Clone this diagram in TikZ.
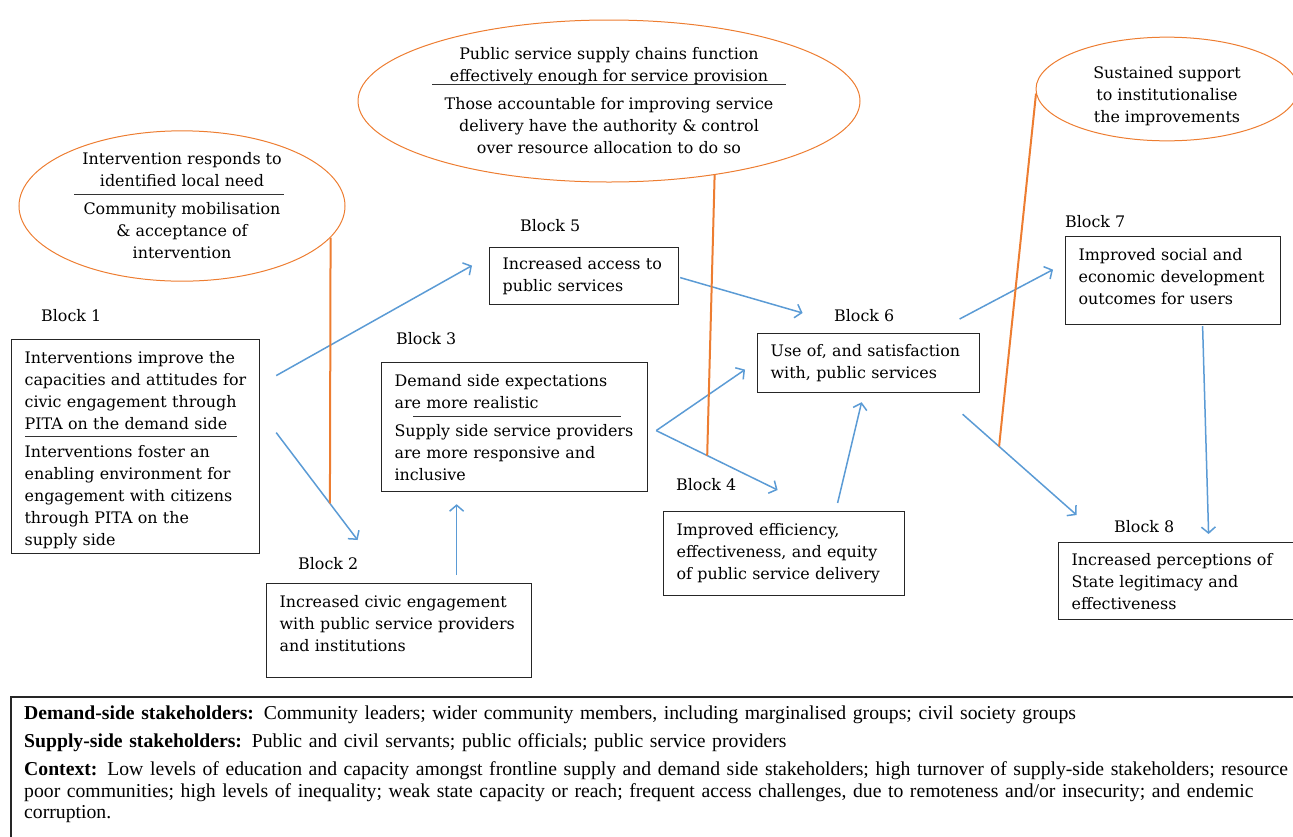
\documentclass[tikz,border=0pt]{standalone}
\usepackage{fontspec}
\setmainfont{DejaVu Serif}
\newfontfamily\ctxfont{Liberation Serif}
\usepackage{tikz}
\usetikzlibrary{calc,positioning,shapes.geometric,arrows.meta}
\definecolor{linkblue}{HTML}{5B9BD5}
\definecolor{assumorange}{HTML}{ED7D31}
\newcommand{\padtop}[1]{\rule{0pt}{#1}}
\newcommand{\padbot}[1]{\rule[-#1]{0pt}{0pt}}

\begin{document}
\begin{tikzpicture}[
  x=1pt, y=-1pt,
  font=\fontsize{15.9}{22}\selectfont,
  boxstyle/.style={draw=black!85, line width=1.2pt, anchor=north west, align=left, inner xsep=13pt, inner ysep=0pt},
  namestyle/.style={inner sep=0pt},
  ovalstyle/.style={ellipse, draw=assumorange, line width=1pt, inner sep=0pt, align=center},
  rulestyle/.style={draw=black!80, line width=0.9pt},
  pathstyle/.style={draw=linkblue, line width=1.5pt, -{Straight Barb[length=6pt,width=14pt]}},
  linkstyle/.style={draw=assumorange, line width=2pt}
]
  \useasboundingbox (0,0) rectangle (1293,836);

  \node[boxstyle, text width=222pt, minimum height=214pt] (B1) at (11,339)
    {\padtop{20pt}Interventions improve the\\ capacities and attitudes for\\ civic engagement through\\ PITA on the demand side\\[6pt]
     Interventions foster an\\ enabling environment for\\ engagement with citizens\\ through PITA on the\\ supply side};
  \node[boxstyle, text width=239pt, minimum height=94pt] (B2) at (266,583)
    {Increased civic engagement\\ with public service providers\\ and institutions\padbot{14pt}};
  \node[boxstyle, text width=240pt, minimum height=129pt] (B3) at (381,362)
    {Demand side expectations\\ are more realistic\\[6pt] Supply side service providers\\ are more responsive and\\ inclusive};
  \node[boxstyle, text width=215pt, minimum height=84pt] (B4) at (663,511)
    {Improved efficiency,\\ effectiveness, and equity\\ of public service delivery};
  \node[boxstyle, text width=163pt, minimum height=57pt] (B5) at (489,247)
    {Increased access to\\ public services};
  \node[boxstyle, text width=196pt, minimum height=59pt] (B6) at (757,333)
    {Use of, and satisfaction\\ with, public services};
  \node[boxstyle, text width=189pt, minimum height=88pt] (B7) at (1065,236)
    {Improved social and\\ economic development\\ outcomes for users\padbot{8pt}};
  \node[boxstyle, text width=214pt, minimum height=77pt] (B8) at (1058,542)
    {Increased perceptions of\\ State legitimacy and\\ effectiveness};

  \node[namestyle, above right=17pt and 30pt of B1.north west] (N1) {Block 1};
  \node[namestyle, above right=13pt and 32pt of B2.north west] (N2) {Block 2};
  \node[namestyle, above right=17pt and 15pt of B3.north west] (N3) {Block 3};
  \node[namestyle, above right=20pt and 13pt of B4.north west] (N4) {Block 4};
  \node[namestyle, above right=15pt and 31pt of B5.north west] (N5) {Block 5};
  \node[namestyle, above right=11pt and 77pt of B6.north west] (N6) {Block 6};
  \node[namestyle, above right=8pt and 0pt of B7.north west] (N7) {Block 7};
  \node[namestyle, above right=9pt and 56pt of B8.north west] (N8) {Block 8};

  \node[ovalstyle, minimum width=326pt, minimum height=150pt] (E1) at (182,206)
    {Intervention responds to\\ identified local need\\[6pt] Community mobilisation\\ \& acceptance of\\ intervention};
  \node[ovalstyle, minimum width=502pt, minimum height=162pt] (E2) at (609,101)
    {Public service supply chains function\\ effectively enough for service provision\\[6pt]
     Those accountable for improving service\\ delivery have the authority \& control\\ over resource allocation to do so};
  \node[ovalstyle, minimum width=262pt, minimum height=100pt] (E3) at (1167,89)
    {\padtop{26pt}Sustained support\\ to institutionalise\\ the improvements};

  \draw[rulestyle] ($(B1.north west)+(14,97)$) -- ($(B1.north west)+(226,97)$);
  \draw[rulestyle] ($(B3.north west)+(32,54)$) -- ($(B3.north west)+(240,54)$);
  \draw[rulestyle] ($(E1.center)+(-108,-12)$) -- ($(E1.center)+(102,-12)$);
  \draw[rulestyle] ($(E2.center)+(-177,-17)$) -- ($(E2.center)+(177,-17)$);

  \draw[pathstyle] ($(B1.east)+(16,-71)$) -- ($(B5.west)+(-17,-10.5)$);
  \draw[pathstyle] ($(B1.east)+(16,-14)$) -- coordinate[pos=0.66] (k1) ($(B2.north)+(-41.5,-43)$);
  \draw[pathstyle] ($(B2.north)+(57.5,-8)$) -- ($(B3.south)+(-58,12)$);
  \draw[pathstyle] ($(B3.east)+(8,3.5)$) -- ($(B6.west)+(-12,6.5)$);
  \draw[pathstyle] ($(B3.east)+(8,3.5)$) -- coordinate[pos=0.42] (k2) ($(B4.north)+(-6.5,-21)$);
  \draw[pathstyle] ($(B5.east)+(1,1.5)$) -- ($(B6.north)+(-66,-20)$);
  \draw[pathstyle] ($(B4.north)+(53.5,-8)$) -- ($(B6.south)+(-7,9)$);
  \draw[pathstyle] ($(B6.north)+(91,-14)$) -- ($(B7.west)+(-12,-11)$);
  \draw[pathstyle] ($(B6.south)+(94,21)$) -- coordinate[pos=0.32] (k3) ($(B8.north)+(-102,-27)$);
  \draw[pathstyle] ($(B7.south)+(29.5,1)$) -- ($(B8.north)+(30,-8)$);

  \draw[linkstyle] (E1.-12) -- (k1);
  \draw[linkstyle] (E2.-35) -- (k2);
  \draw[linkstyle] (E3.-178) -- (k3);

  \node[anchor=north west, align=left, inner xsep=13pt, inner ysep=9pt, text width=1275pt,
        font=\ctxfont\fontsize{19.7}{21.5}\selectfont] (CTX) at (11,697)
    {\textbf{Demand-side stakeholders:} Community leaders; wider community members, including marginalised groups; civil society groups\\[6.5pt]
     \textbf{Supply-side stakeholders:} Public and civil servants; public officials; public service providers\\[6.5pt]
     \textbf{Context:} Low levels of education and capacity amongst frontline supply and demand side stakeholders; high turnover of supply-side stakeholders; resource\\
     poor communities; high levels of inequality; weak state capacity or reach; frequent access challenges, due to remoteness and/or insecurity; and endemic\\
     corruption.};
  \draw[line width=1.2pt, draw=black!85] (CTX.north west) rectangle ++(1300,160);
\end{tikzpicture}
\end{document}
